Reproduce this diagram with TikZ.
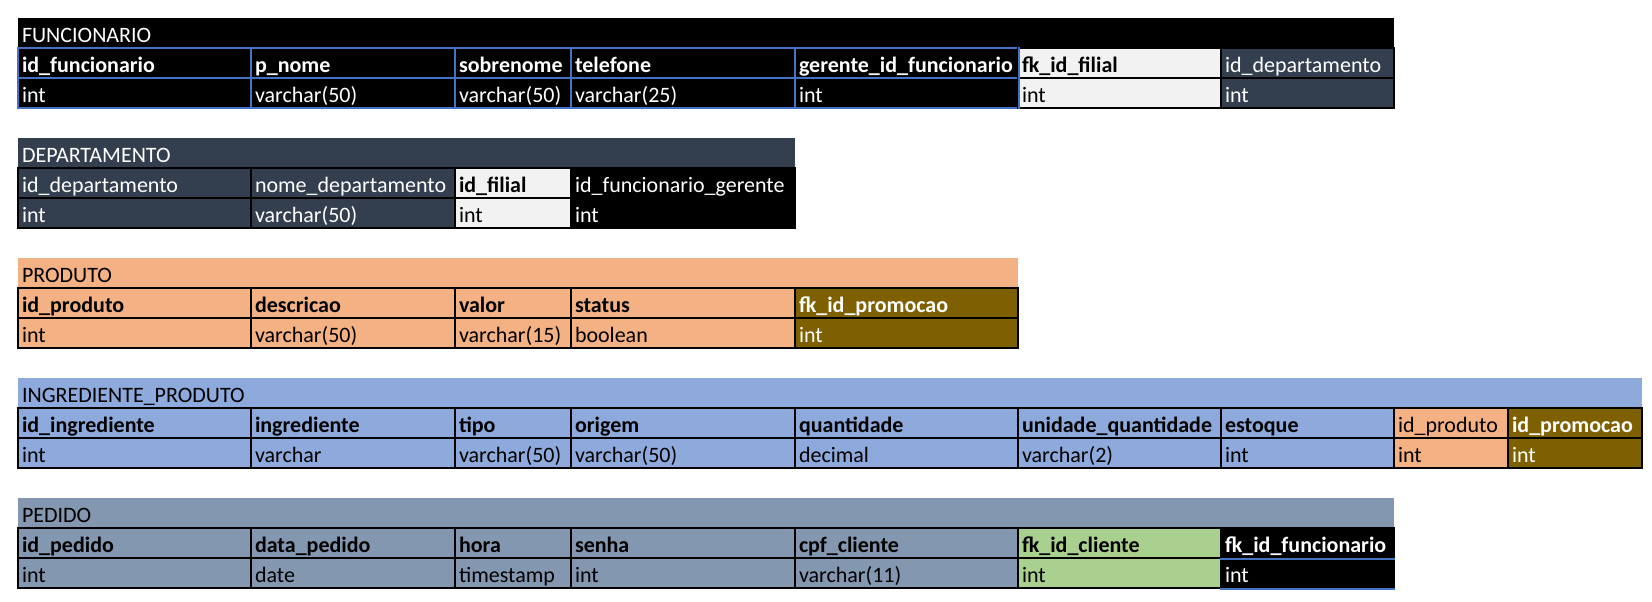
\documentclass[tikz,border=0pt]{standalone}
\usepackage{fontspec}
\setmainfont{Carlito}
\usepackage{tikz}
\usetikzlibrary{positioning}
\definecolor{slate}{HTML}{333F4F}
\definecolor{ltgray}{HTML}{F2F2F2}
\definecolor{peach}{HTML}{F4B183}
\definecolor{promo}{HTML}{7F6000}
\definecolor{ingblue}{HTML}{8EA9DB}
\definecolor{pedgray}{HTML}{8497B0}
\definecolor{cligreen}{HTML}{A9D08E}
\definecolor{xlblue}{HTML}{4472C4}
\hyphenpenalty=10000
\tikzset{%
	cell/.style={draw=black, line width=1pt, rectangle, anchor=north west, inner xsep=2pt, inner ysep=0pt,%
		text height=12.25pt, text depth=2.75pt, align=left, font=\fontsize{11}{13}\selectfont},
	ttl/.style={cell, draw=none},
	hb/.style={font=\fontsize{11}{13}\selectfont\bfseries},
	hn/.style={},
	fun/.style={fill=black, text=white, draw=xlblue},
	fil/.style={fill=ltgray, text=black},
	dep/.style={fill=slate, text=white},
	ger/.style={fill=black, text=white},
	prd/.style={fill=peach, text=black},
	prm/.style={fill=promo, text=white},
	ing/.style={fill=ingblue, text=black},
	ped/.style={fill=pedgray, text=black},
	cli/.style={fill=cligreen, text=black},
	fkf/.style={fill=black, text=white},
	bline/.style={draw=xlblue, line width=1pt}
}
\begin{document}
\begin{tikzpicture}[x=0.5pt, y=-0.5pt]
	\useasboundingbox (0,0) rectangle (1652,601);
	% FUNCIONARIO
	\node[ttl, fill=black, text=white, minimum width=688pt, text width=684pt] (func) at (17,17) {FUNCIONARIO};
	\foreach \x/\w/\lbl/\typ/\sty/\hf [count=\i] in {17/233/id\_funcionario/int/fun/hb, 250/204/p\_nome/varchar(50)/fun/hb,%
			454/116/sobrenome/varchar(50)/fun/hb, 570/224/telefone/varchar(25)/fun/hb, 794/223/gerente\_id\_funcionario/int/fun/hb,%
			1017/203/fk\_id\_filial/int/fil/hb, 1220/173/id\_departamento/int/dep/hn} {
		\pgfmathsetmacro\cw{\w/2}
		\pgfmathsetmacro\tw{\w/2-4}
		\node[cell, \sty, \hf, minimum width=\cw pt, text width=\tw pt] (func-h\i) at (\x,47) {\lbl};
		\node[cell, \sty, minimum width=\cw pt, text width=\tw pt] (func-d\i) at (\x,77) {\typ};
	}
	\draw[bline] (func-h5.north east) -- (func-d5.south east);
	% DEPARTAMENTO
	\node[ttl, fill=slate, text=white, minimum width=388.5pt, text width=384.5pt] (depto) at (17,137) {DEPARTAMENTO};
	\foreach \x/\w/\lbl/\typ/\sty/\hf [count=\i] in {17/233/id\_departamento/int/dep/hn, 250/204/nome\_departamento/varchar(50)/dep/hn,%
			454/116/id\_filial/int/fil/hb, 570/224/id\_funcionario\_gerente/int/ger/hn} {
		\pgfmathsetmacro\cw{\w/2}
		\pgfmathsetmacro\tw{\w/2-4}
		\node[cell, \sty, \hf, minimum width=\cw pt, text width=\tw pt] (depto-h\i) at (\x,167) {\lbl};
		\node[cell, \sty, minimum width=\cw pt, text width=\tw pt] (depto-d\i) at (\x,197) {\typ};
	}
	% PRODUTO
	\node[ttl, fill=peach, minimum width=500pt, text width=496pt] (prod) at (17,257) {PRODUTO};
	\foreach \x/\w/\lbl/\typ/\sty/\hf [count=\i] in {17/233/id\_produto/int/prd/hb, 250/204/descricao/varchar(50)/prd/hb,%
			454/116/valor/varchar(15)/prd/hb, 570/224/status/boolean/prd/hb, 794/223/fk\_id\_promocao/int/prm/hb} {
		\pgfmathsetmacro\cw{\w/2}
		\pgfmathsetmacro\tw{\w/2-4}
		\node[cell, \sty, \hf, minimum width=\cw pt, text width=\tw pt] (prod-h\i) at (\x,287) {\lbl};
		\node[cell, \sty, minimum width=\cw pt, text width=\tw pt] (prod-d\i) at (\x,317) {\typ};
	}
	% INGREDIENTE_PRODUTO
	\node[ttl, fill=ingblue, minimum width=812pt, text width=808pt] (ingr) at (17,377) {INGREDIENTE\_PRODUTO};
	\foreach \x/\w/\lbl/\typ/\sty/\hf [count=\i] in {17/233/id\_ingrediente/int/ing/hb, 250/204/ingrediente/varchar/ing/hb,%
			454/116/tipo/varchar(50)/ing/hb, 570/224/origem/varchar(50)/ing/hb, 794/223/quantidade/decimal/ing/hb,%
			1017/203/unidade\_quantidade/varchar(2)/ing/hb, 1220/173/estoque/int/ing/hb, 1393/114/id\_produto/int/prd/hn,%
			1507/134/id\_promocao/int/prm/hb} {
		\pgfmathsetmacro\cw{\w/2}
		\pgfmathsetmacro\tw{\w/2-4}
		\node[cell, \sty, \hf, minimum width=\cw pt, text width=\tw pt] (ingr-h\i) at (\x,407) {\lbl};
		\node[cell, \sty, minimum width=\cw pt, text width=\tw pt] (ingr-d\i) at (\x,437) {\typ};
	}
	% PEDIDO
	\node[ttl, fill=pedgray, minimum width=688pt, text width=684pt] (ped) at (17,497) {PEDIDO};
	\foreach \x/\w/\lbl/\typ/\sty/\hf [count=\i] in {17/233/id\_pedido/int/ped/hb, 250/204/data\_pedido/date/ped/hb,%
			454/116/hora/timestamp/ped/hb, 570/224/senha/int/ped/hb, 794/223/cpf\_cliente/varchar(11)/ped/hb,%
			1017/203/fk\_id\_cliente/int/cli/hb, 1220/173/fk\_id\_funcionario/int/fkf/hb} {
		\pgfmathsetmacro\cw{\w/2}
		\pgfmathsetmacro\tw{\w/2-4}
		\node[cell, \sty, \hf, minimum width=\cw pt, text width=\tw pt] (ped-h\i) at (\x,527) {\lbl};
		\node[cell, \sty, minimum width=\cw pt, text width=\tw pt] (ped-d\i) at (\x,557) {\typ};
	}
	\draw[bline] (ped-h7.south west) -- (ped-h7.south east);
	\draw[bline] (ped-d7.south west) -- (ped-d7.south east);
\end{tikzpicture}
\end{document}
